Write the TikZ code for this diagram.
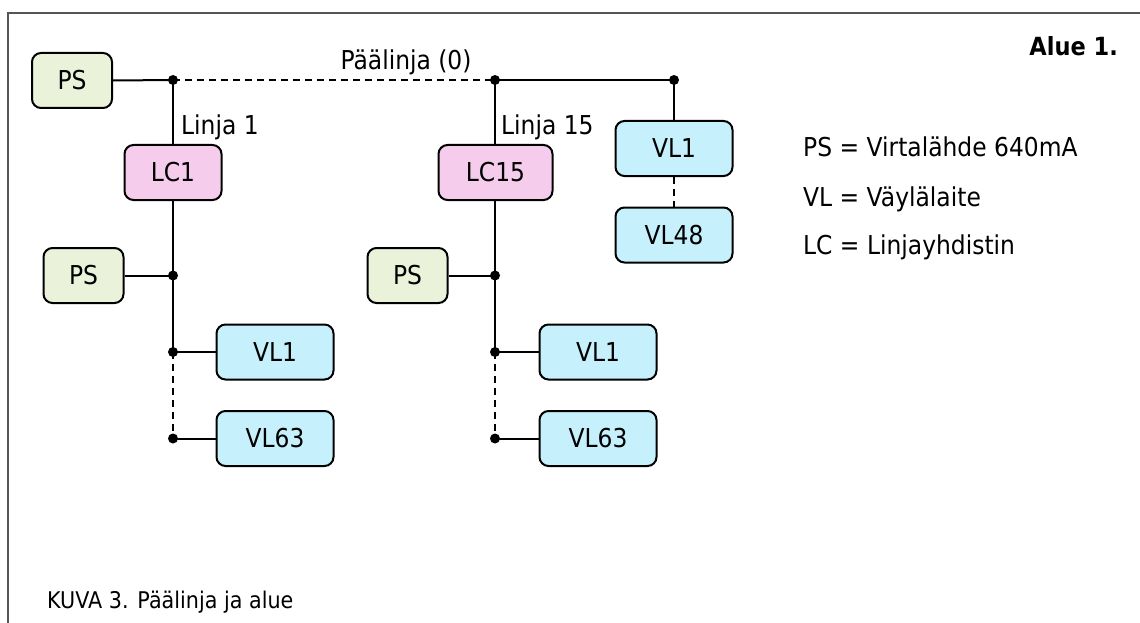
\documentclass[tikz,border=0pt]{standalone}
\usepackage{fontspec}
\setmainfont[FakeStretch=0.9]{DejaVu Sans}
\definecolor{psfill}{RGB}{234,242,218}
\definecolor{lcfill}{RGB}{245,204,236}
\definecolor{vlfill}{RGB}{198,241,252}
\definecolor{framegray}{RGB}{85,85,85}
\tikzset{
  unit/.style={draw=black, line width=2pt, rounded corners=9pt, align=center,
    inner sep=0pt, minimum height=55pt, font=\fontsize{26}{29}\selectfont},
  psbox/.style={unit, fill=psfill, minimum width=80pt},
  lcbox/.style={unit, fill=lcfill},
  vlbox/.style={unit, fill=vlfill, minimum width=117pt},
  bus/.style={line width=2pt},
  busdash/.style={bus, dash pattern=on 7pt off 5pt},
  dot/.style={circle, fill=black, inner sep=0pt, minimum size=10pt},
  lbl/.style={inner sep=0pt, font=\fontsize{26}{29}\selectfont}
}
\begin{document}
\begin{tikzpicture}[x=1pt, y=-1pt]
\useasboundingbox (0,0) rectangle (1140,623);
% open frame
\draw[framegray, line width=2.2pt] (8,623) -- (8,13) -- (1140,13);

% junction points
\coordinate (j1) at (173,80);
\coordinate (j2) at (495,80);
\coordinate (j3) at (674,80);
\coordinate (a1) at (173,275.5);
\coordinate (a2) at (173,352);
\coordinate (a3) at (173,438.5);
\coordinate (b1) at (495,275.5);
\coordinate (b2) at (495,352);
\coordinate (b3) at (495,438.5);

% devices
\node[psbox] (ps0) at (72,80.5) {PS};
\node[lcbox, minimum width=97pt] (lc1) at (173,172.5) {LC1};
\node[lcbox, minimum width=114pt] (lc15) at (495.5,172.5) {LC15};
\node[vlbox] (mvl1) at (674,148.5) {VL1};
\node[vlbox] (mvl48) at (674,235) {VL48};
\node[psbox] (psa) at (83.5,275.5) {PS};
\node[vlbox] (avl1) at (275,352) {VL1};
\node[vlbox] (avl63) at (275,438.5) {VL63};
\node[psbox] (psb) at (407.5,275.5) {PS};
\node[vlbox] (bvl1) at (598,352) {VL1};
\node[vlbox] (bvl63) at (598,438.5) {VL63};

% main line
\draw[bus] (ps0.east) -- (j1);
\draw[busdash] (j1) -- (j2);
\draw[bus] (j2) -- (j3);
\draw[bus] (j1) -- (lc1.north);
\draw[bus] (j2) -- (j2 |- lc15.north);
\draw[bus] (j3) -- (mvl1.north);
\draw[busdash] (mvl1.south) -- (mvl48.north);

% line 1
\draw[bus] (lc1.south) -- (a2);
\draw[busdash] (a2) -- (a3);
\draw[bus] (psa.east) -- (a1);
\draw[bus] (a2) -- (avl1.west);
\draw[bus] (a3) -- (avl63.west);

% line 15
\draw[bus] (b1 |- lc15.south) -- (b2);
\draw[busdash] (b2) -- (b3);
\draw[bus] (psb.east) -- (b1);
\draw[bus] (b2) -- (bvl1.west);
\draw[bus] (b3) -- (bvl63.west);

% junction dots
\foreach \p in {j1,j2,j3,a1,a2,a3,b1,b2,b3}
  \node[dot] at (\p) {};

% labels
\node[lbl, anchor=base] (tmain) at (406,70) {Päälinja (0)};
\node[lbl, anchor=west] (tl1) at (181,127) {Linja 1};
\node[lbl, anchor=west] (tl15) at (501,127) {Linja 15};
\node[lbl, anchor=base east, font=\fontsize{25}{28}\selectfont\bfseries] (area) at (1118,56) {Alue 1.};
\node[lbl, anchor=base west] (k1) at (803,157) {PS = Virtalähde 640mA};
\node[lbl, anchor=base west] (k2) at (803,206) {VL = Väylälaite};
\node[lbl, anchor=base west] (k3) at (803,254) {LC = Linjayhdistin};
\node[lbl, anchor=base west, font=\fontsize{23}{26}\selectfont] (cap) at (47,608) {KUVA 3. Päälinja ja alue};
\end{tikzpicture}
\end{document}
